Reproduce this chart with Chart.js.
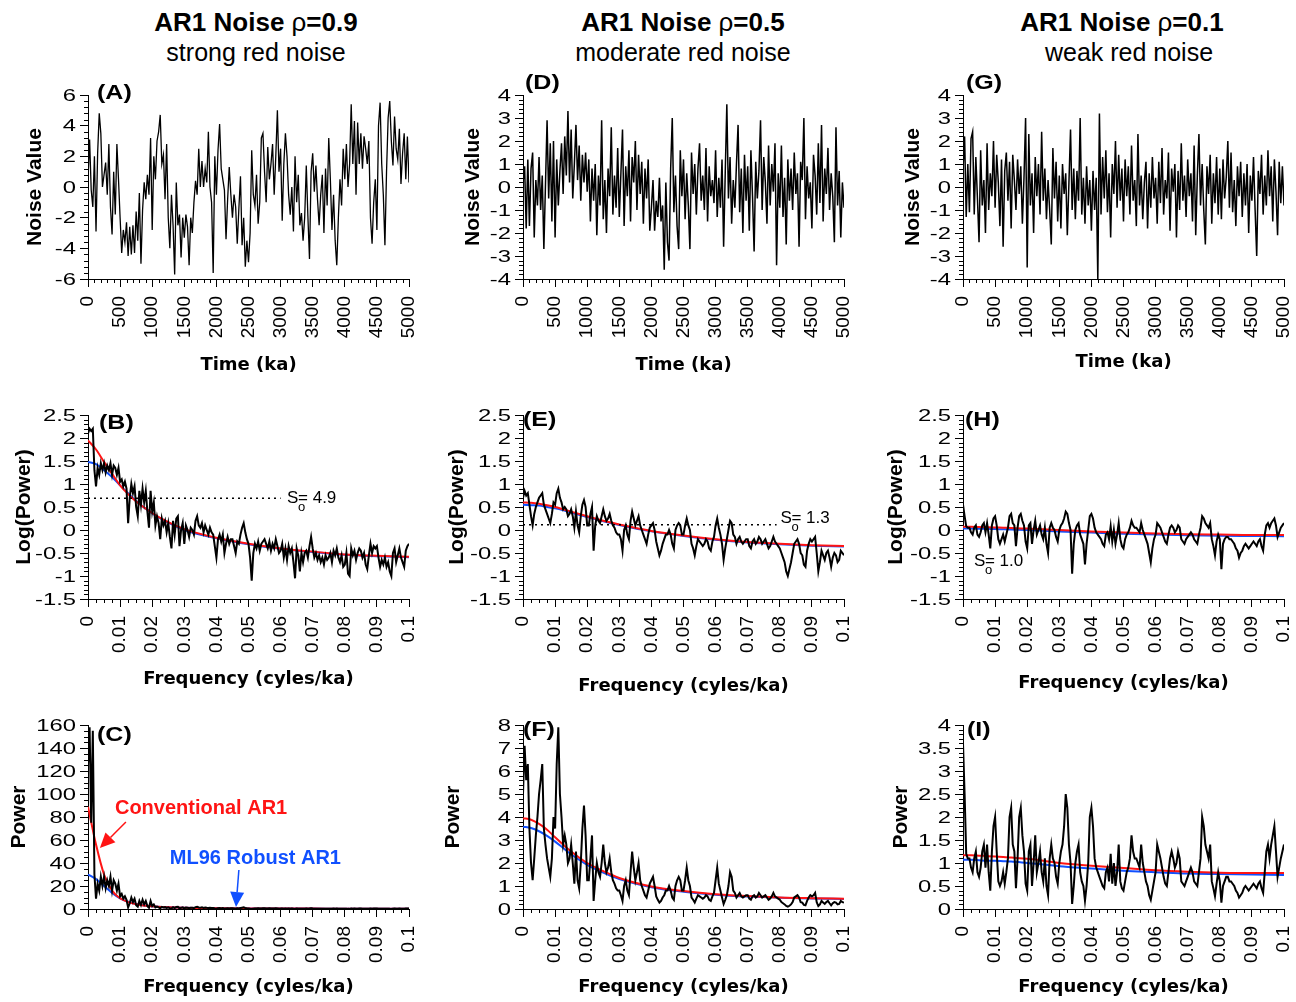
<!DOCTYPE html>
<html>
<head>
<meta charset="utf-8">
<script src="https://cdn.jsdelivr.net/npm/chart.js@4.4.1/dist/chart.umd.min.js"></script>
<style>
  body { margin: 0; background: #fff; width: 1296px; height: 1002px; position: relative; overflow: hidden; }
  canvas { position: absolute; }
  .ttl { position: absolute; top: 7px; width: 400px; text-align: center; color: #000; font-family: "Liberation Sans", Arial, sans-serif; }
  .ttl .t1 { font-size: 26px; font-weight: bold; line-height: 30px; }
  .ttl .t1 span { font-weight: normal; }
  .ttl .t2 { font-size: 25px; line-height: 30px; }
</style>
</head>
<body>
<div class="ttl" style="left:56px"><div class="t1">AR1 Noise <span>ρ</span>=0.9</div><div class="t2">strong red noise</div></div>
<div class="ttl" style="left:483px"><div class="t1">AR1 Noise <span>ρ</span>=0.5</div><div class="t2">moderate red noise</div></div>
<div class="ttl" style="left:922px"><div class="t1">AR1 Noise <span>ρ</span>=0.1</div><div class="t2" style="position:relative;left:7px">weak red noise</div></div>

<script>
// sampling of the read-off series
const TIME_STEP = 25;       // ka between samples of the noise series
const FREQ_STEP = 0.0005;   // cycles/ka between samples of the spectra

// (A) rho = 0.9
const noiseA = [
  0.5, 3.1, -0.2, -1.3, 2.0, -2.9, 2.2, 4.8, 3.5, 0.0, 0.8, 1.6, -0.5, 2.8, -1.3, -3.1, 1.0, -1.8, 2.8, 0.5,
  -2.0, -4.3, -2.8, -3.6, -2.3, -4.5, -2.6, -4.4, -2.5, -4.3, -1.6, -3.5, -0.4, -5.0, -1.5, 0.3, -0.8, 0.8, -0.5, 3.2,
  -2.8, 2.0, 0.5, 3.0, 3.6, 4.7, 1.5, 2.1, -0.8, 2.8, -2.0, -4.0, -0.5, -2.5, -5.7, 0.3, -2.5, -1.8, -4.6, -2.0,
  -3.3, -1.8, -2.6, -5.1, -2.0, -3.0, -1.0, 0.4, -0.5, 2.5, 0.0, 1.7, 0.0, 1.2, 0.3, 3.6, 0.0, -1.0, -5.6, 2.0,
  -0.5, 2.4, 4.1, 1.2, 0.5, -0.2, -3.4, -0.8, 1.3, -0.5, -2.0, -0.5, -1.3, -3.7, -1.4, 0.7, -3.8, -2.0, -5.2, -3.5,
  -4.9, -3.0, 2.4, -0.5, -1.2, 0.8, -2.4, -1.0, 3.2, 3.5, 1.0, -1.0, 2.6, 0.5, 1.5, 2.8, -0.5, 2.0, 5.0, 1.0,
  2.5, -2.2, 1.5, 3.5, 2.0, -0.5, -1.8, 0.0, -2.9, 2.0, -1.0, 0.8, -2.5, -1.7, -3.5, -2.0, 1.4, -1.9, -4.7, 1.0,
  2.2, -0.3, 1.4, -0.8, -2.5, -0.5, 0.8, -3.0, 1.2, -1.2, 3.2, 0.5, -2.8, -0.5, -3.5, -5.1, -2.0, 0.5, -1.2, 2.5,
  0.5, 2.8, 0.0, 1.5, 5.4, 1.5, 4.3, -0.5, 4.2, 1.5, 3.5, 1.2, 3.3, 2.5, 1.5, 3.0, -2.0, -3.7, -1.0, 0.5,
  -2.8, 4.0, 5.5, 1.5, -0.5, -3.8, 1.0, 4.5, 5.6, 3.0, 1.4, 4.6, 2.5, 1.8, 3.8, 0.2, 2.2, 3.5, 0.5, 3.3, 0.3
];
// (D) rho = 0.5
const noiseD = [
  0.2, 0.9, -1.8, 1.2, -1.7, 0.8, 1.5, -2.2, 0.3, -0.8, 1.3, -1.0, 0.5, -2.7, 0.1, 2.9, -0.5, 1.9, -1.5, 2.0,
  -2.2, 1.2, -0.8, 0.7, 1.9, -0.3, 2.2, 0.5, 3.3, 0.2, 2.5, -0.5, 1.0, 2.7, 0.3, 1.8, -0.6, 1.4, 0.2, 1.5,
  -0.2, 1.2, -1.5, 0.8, -0.6, 1.0, -2.1, 0.5, -0.8, 2.9, -1.4, 0.3, -2.0, 0.8, -0.4, 2.6, -1.2, 0.5, -0.9, 1.7,
  -1.3, 0.6, 2.5, -1.7, 0.9, -0.4, 1.6, -1.5, 1.3, 0.2, 2.0, -1.0, 1.4, -0.3, 1.1, -1.6, 0.8, -0.5, 1.2, -1.9,
  -0.9, 0.3, -1.9, -0.6, -1.3, 0.4, -1.5, -0.8, -3.6, 0.2, -2.4, -3.2, 0.8, 3.0, -1.1, 0.5, -1.7, -2.7, 1.6, -0.4,
  1.2, -1.4, 0.6, -0.8, -2.7, 1.5, -0.3, 1.0, -1.2, 0.8, 1.9, -0.6, 0.5, -1.0, 1.7, -1.5, 0.9, -0.4, 0.3, -0.7,
  1.6, -1.3, 0.4, -0.9, 1.2, -2.6, 0.6, 3.6, -0.5, 1.3, -1.6, 0.3, -0.9, 1.0, 2.7, -1.1, 0.8, -2.0, 1.4, -0.6,
  0.9, -1.9, 1.6, -0.4, -2.8, 1.1, -0.5, 0.7, 2.9, -1.0, 1.3, 0.2, -1.6, 1.8, -0.8, 1.0, -0.2, 1.9, -3.4, 0.6,
  -0.9, 1.8, -1.3, 0.4, -2.5, 1.2, -0.6, 0.8, -1.0, 1.5, -0.3, 0.6, -2.6, 1.1, 0.3, 3.0, -1.4, 0.9, -0.5, 0.2,
  -1.8, 1.4, 0.5, -1.2, 1.9, -0.7, 2.7, -1.5, 0.8, -0.3, 1.7, -1.0, 0.6, -0.4, -2.4, 2.6, -0.8, 0.7, -2.2, 0.2, -0.9
];
// (G) rho = 0.1
const noiseG = [
  0.8, 2.2, -1.3, 1.0, -1.1, 2.1, 2.4, -1.2, 1.3, -0.5, -2.4, 1.6, -0.8, 0.3, -2.0, 1.9, -1.0, 0.6, -0.4, 2.0,
  -0.9, 1.4, 0.2, -1.7, 1.2, -2.6, 0.7, 1.5, -0.6, 1.1, -1.8, 1.4, 0.3, -1.0, 1.2, -0.3, 0.9, -1.6, 0.4, 3.0,
  -3.5, 2.3, -0.8, 0.6, -2.0, 1.3, -0.4, 1.0, -1.2, 2.4, -0.6, 0.8, -1.4, 0.3, -1.0, -2.5, 1.7, -0.5, 1.1, -1.5,
  0.5, -1.8, 1.0, -0.3, 0.6, -2.1, 0.2, 2.5, -1.0, 0.8, -1.4, 0.7, -0.6, 3.0, -1.2, 0.4, -1.6, 0.9, -0.8, 0.3,
  -1.9, 0.7, -1.0, 0.4, -4.0, 3.2, -1.2, 1.3, -0.5, 1.6, -1.1, 0.6, -2.2, 1.0, -0.3, 2.0, -0.9, 1.4, -0.6, 0.8,
  -1.5, 1.2, -0.4, 0.9, -1.2, 1.8, -0.6, 0.3, -1.7, 2.3, -0.8, 0.5, -1.4, 0.2, 1.1, -1.8, 0.6, -0.9, 1.3, -0.5,
  0.4, -1.6, 1.1, -0.7, 1.7, -1.2, 0.3, -0.5, 1.5, -1.9, 0.8, -0.2, 1.0, -2.2, 0.7, -1.0, 1.9, -0.6, 0.5, -1.3,
  1.2, -0.4, 0.6, -1.5, 1.8, -2.1, 0.5, 2.3, -0.8, 1.0, -1.0, -2.5, 0.9, -0.3, 1.4, -1.6, 0.6, -0.7, 1.3, -1.2,
  0.8, -1.4, 1.2, -0.5, 0.4, 2.0, -0.9, 1.5, -1.1, 0.3, -1.7, 0.9, -0.4, 1.1, -1.3, 0.6, -0.8, 1.0, -2.0, 0.5,
  -0.6, 1.3, -1.0, -3.0, 0.7, -0.3, 1.4, -1.2, 0.5, -0.8, 1.6, -0.4, 0.9, -1.5, 1.2, -0.2, -2.1, 1.1, -0.7, 0.9, -0.8
];

// (B) log10 power, rho = 0.9
const logPowerB = [
  2.1, 2.2, 2.15, 2.2, 1.3, 0.95, 1.35, 1.2, 1.45, 1.3, 1.45, 1.25, 1.4, 1.3, 1.45, 1.2, 1.4, 1.35, 1.2, 1.35,
  1.05, 1.1, 0.95, 1.05, 0.9, 0.15, 0.7, 1.0, 0.8, 0.95, 0.5, 0.3, 0.85, 0.55, 0.9, 0.6, 0.85, 0.4, 0.05, 0.85,
  0.4, 0.6, 0.1, 0.3, 0.15, -0.2, 0.25, 0.1, 0.2, -0.05, 0.15, -0.15, -0.4, 0.2, -0.1, 0.25, 0.3, -0.35, 0.0, 0.15,
  -0.3, 0.1, 0.0, -0.15, 0.05, 0.0, -0.1, 0.2, 0.3, 0.1, 0.05, 0.15, -0.05, 0.1, 0.0, -0.1, 0.05, -0.05, -0.1, -0.35,
  -0.6, -0.2, -0.1, -0.25, -0.1, -0.5, -0.3, -0.15, -0.3, -0.2, -0.2, -0.35, -0.5, -0.25, -0.3, -0.1, 0.05, 0.15, -0.05, -0.2,
  -0.3, -0.6, -1.1, -0.5, -0.3, -0.4, -0.25, -0.45, -0.3, -0.25, -0.2, -0.3, -0.4, -0.25, -0.45, -0.3, -0.4, -0.2, -0.35, -0.5,
  -0.45, -0.3, -0.6, -0.4, -0.65, -0.35, -0.5, -0.4, -0.7, -1.05, -0.4, -0.55, -0.9, -0.5, -0.7, -0.5, -0.45, -0.6, -0.35, -0.15,
  -0.4, -0.6, -0.5, -0.65, -0.55, -0.7, -0.6, -0.75, -0.55, -0.65, -0.6, -0.5, -0.7, -0.45, -0.55, -0.4, -0.6, -0.7, -0.55, -0.8,
  -0.75, -0.5, -0.95, -1.0, -0.4, -0.55, -0.45, -0.65, -0.5, -0.4, -0.45, -0.6, -0.5, -0.75, -0.85, -0.55, -0.3, -0.5, -0.35, -0.4,
  -0.35, -0.6, -0.8, -0.65, -0.75, -0.6, -0.8, -0.7, -0.9, -1.0, -0.5, -0.4, -0.7, -0.55, -0.4, -0.6, -0.7, -0.8, -0.45, -0.35, -0.3
];
// (C) power, rho = 0.9
const powerC = [
  126, 158, 75, 155, 30, 9, 22, 16, 28, 20, 28, 18, 25, 20, 28, 16, 25, 22, 16, 22,
  11, 13, 9, 11, 8, 1.4, 5, 10, 6, 9, 3.2, 2, 7, 3.5, 8, 4, 7, 2.5, 1.1, 7,
  2.5, 4, 1.3, 2, 1.4, 0.6, 1.8, 1.3, 1.6, 0.9, 1.4, 0.7, 0.4, 1.6, 0.8, 1.8, 2, 0.45, 1, 1.4,
  0.5, 1.3, 1, 0.7, 1.1, 1, 0.8, 1.6, 2, 1.3, 1.1, 1.4, 0.9, 1.3, 1, 0.8, 1.1, 0.9, 0.8, 0.45,
  0.25, 0.6, 0.8, 0.55, 0.8, 0.3, 0.5, 0.7, 0.5, 0.6, 0.6, 0.45, 0.3, 0.55, 0.5, 0.8, 1.1, 1.4, 0.9, 0.6,
  0.5, 0.25, 0.08, 0.3, 0.5, 0.4, 0.55, 0.35, 0.5, 0.55, 0.6, 0.5, 0.4, 0.55, 0.35, 0.5, 0.4, 0.6, 0.45, 0.3,
  0.35, 0.5, 0.25, 0.4, 0.22, 0.45, 0.3, 0.4, 0.2, 0.09, 0.4, 0.28, 0.13, 0.3, 0.2, 0.3, 0.35, 0.25, 0.45, 0.7,
  0.4, 0.25, 0.3, 0.22, 0.28, 0.2, 0.25, 0.18, 0.28, 0.22, 0.25, 0.3, 0.2, 0.35, 0.28, 0.4, 0.25, 0.2, 0.28, 0.16,
  0.18, 0.3, 0.11, 0.1, 0.4, 0.28, 0.35, 0.22, 0.3, 0.4, 0.35, 0.25, 0.3, 0.18, 0.14, 0.28, 0.5, 0.3, 0.45, 0.4,
  0.45, 0.25, 0.16, 0.22, 0.18, 0.25, 0.16, 0.2, 0.13, 0.1, 0.3, 0.4, 0.2, 0.28, 0.4, 0.25, 0.2, 0.16, 0.35, 0.45, 0.5
];
// (E) log10 power, rho = 0.5
const logPowerE = [
  0.7, 0.85, 0.75, 0.8, 0.55, 0.3, 0.1, 0.35, 0.5, 0.6, 0.7, 0.75, 0.8, 0.55, 0.45, 0.35, 0.25, 0.15, 0.35, 0.6,
  0.55, 0.8, 0.9, 0.7, 0.6, 0.45, 0.5, 0.45, 0.3, 0.35, 0.45, 0.3, 0.05, 0.4, 0.1, -0.05, 0.3, 0.55, 0.65, 0.5,
  0.1, 0.1, 0.35, 0.5, -0.45, 0.1, 0.3, 0.2, 0.15, 0.3, 0.45, 0.3, 0.2, 0.25, 0.35, 0.2, 0.1, 0.05, -0.05, -0.1,
  -0.1, -0.2, -0.45, 0.0, 0.1, -0.1, -0.2, 0.2, 0.4, 0.25, 0.1, 0.2, 0.3, 0.1, 0.0, -0.1, -0.2, -0.3, -0.1, 0.05,
  0.1, 0.15, 0.0, -0.25, -0.4, -0.55, -0.45, -0.3, -0.2, -0.1, -0.1, 0.0, -0.1, -0.3, -0.4, 0.0, 0.1, 0.15, 0.1, -0.1,
  -0.1, 0.1, 0.25, 0.1, 0.0, -0.3, -0.4, -0.55, -0.35, -0.2, -0.25, -0.3, -0.35, -0.3, -0.2, -0.25, -0.4, -0.45, -0.25, -0.15,
  0.1, 0.25, 0.05, -0.1, -0.3, -0.65, -0.4, -0.2, 0.0, 0.2, 0.15, -0.1, -0.15, -0.3, -0.2, -0.15, -0.25, -0.3, -0.25, -0.2,
  -0.2, -0.35, -0.4, -0.25, -0.2, -0.3, -0.25, -0.15, -0.2, -0.3, -0.25, -0.2, -0.3, -0.4, -0.35, -0.25, -0.15, -0.25, -0.3, -0.35,
  -0.4, -0.5, -0.6, -0.7, -0.9, -1.0, -0.85, -0.7, -0.5, -0.3, -0.25, -0.2, -0.3, -0.5, -0.55, -0.75, -0.8, -0.45, -0.3, -0.2,
  -0.25, -0.2, -0.15, -0.5, -0.9, -0.7, -0.45, -0.55, -0.65, -0.5, -0.45, -0.6, -0.8, -0.6, -0.5, -0.55, -0.7, -0.65, -0.45, -0.5, -0.55
];
// (F) power, rho = 0.5
const powerF = [
  5.0, 7.1, 5.6, 6.3, 3.5, 2.0, 1.25, 2.2, 3.2, 4.0, 5.0, 5.6, 6.3, 3.5, 2.8, 2.2, 1.8, 1.4, 2.2, 4.0,
  3.5, 6.3, 7.9, 5.0, 4.0, 2.8, 3.2, 2.8, 2.0, 2.2, 2.8, 2.0, 1.1, 2.5, 1.25, 0.9, 2.0, 3.5, 4.5, 3.2,
  1.25, 1.25, 2.2, 3.2, 0.35, 1.25, 2.0, 1.6, 1.4, 2.0, 2.8, 2.0, 1.6, 1.8, 2.2, 1.6, 1.25, 1.1, 0.9, 0.8,
  0.8, 0.6, 0.35, 1.0, 1.25, 0.8, 0.6, 1.6, 2.5, 1.8, 1.25, 1.6, 2.0, 1.25, 1.0, 0.8, 0.6, 0.5, 0.8, 1.1,
  1.25, 1.4, 1.0, 0.55, 0.4, 0.28, 0.35, 0.5, 0.6, 0.8, 0.8, 1.0, 0.8, 0.5, 0.4, 1.0, 1.25, 1.4, 1.25, 0.8,
  0.8, 1.25, 1.8, 1.25, 1.0, 0.5, 0.4, 0.28, 0.45, 0.6, 0.55, 0.5, 0.45, 0.5, 0.6, 0.55, 0.4, 0.35, 0.55, 0.7,
  1.25, 1.8, 1.1, 0.8, 0.5, 0.22, 0.4, 0.6, 1.0, 1.6, 1.4, 0.8, 0.7, 0.5, 0.6, 0.7, 0.55, 0.5, 0.55, 0.6,
  0.6, 0.45, 0.4, 0.55, 0.6, 0.5, 0.55, 0.7, 0.6, 0.5, 0.55, 0.6, 0.5, 0.4, 0.45, 0.55, 0.7, 0.55, 0.5, 0.45,
  0.4, 0.3, 0.25, 0.2, 0.13, 0.1, 0.14, 0.2, 0.3, 0.5, 0.55, 0.6, 0.5, 0.3, 0.28, 0.18, 0.16, 0.35, 0.5, 0.6,
  0.55, 0.6, 0.7, 0.3, 0.13, 0.2, 0.35, 0.28, 0.22, 0.3, 0.35, 0.25, 0.16, 0.25, 0.3, 0.28, 0.2, 0.22, 0.35, 0.3, 0.28
];
// (H) log10 power, rho = 0.1
const logPowerH = [
  0.55, 0.3, 0.08, 0.05, 0.05, -0.05, -0.1, 0.05, 0.1, -0.1, -0.15, -0.05, 0.1, 0.15, -0.05, 0.15, -0.1, -0.4, 0.1, 0.25,
  0.3, 0.1, -0.2, -0.3, -0.2, -0.1, -0.25, -0.1, 0.05, 0.3, 0.35, 0.15, 0.1, -0.35, 0.05, 0.3, 0.35, 0.2, 0.1, -0.25,
  -0.4, 0.1, 0.15, -0.3, 0.0, 0.2, -0.1, 0.0, 0.1, -0.1, -0.2, 0.05, -0.3, -0.5, 0.05, 0.15, 0.05, 0.0, -0.15, -0.25,
  0.0, 0.1, 0.15, 0.25, 0.4, 0.35, 0.15, 0.0, -0.95, -0.3, 0.0, 0.1, 0.15, -0.1, -0.2, -0.3, -0.75, -0.3, 0.0, 0.3,
  0.35, 0.25, 0.05, -0.05, -0.1, -0.15, -0.2, -0.3, -0.35, -0.1, -0.05, -0.2, 0.08, -0.25, 0.0, -0.3, -0.1, 0.15, -0.2, -0.35,
  -0.4, -0.2, -0.1, -0.05, 0.05, 0.2, 0.1, 0.05, 0.05, 0.0, -0.05, 0.15, 0.0, -0.1, -0.2, -0.3, -0.5, -0.7, -0.4, -0.2,
  -0.1, 0.15, 0.1, 0.05, -0.05, -0.15, -0.25, -0.3, -0.1, 0.05, 0.1, 0.05, -0.05, 0.0, 0.1, 0.05, -0.2, -0.25, -0.3, -0.2,
  -0.15, -0.1, -0.05, -0.1, -0.2, -0.25, -0.3, -0.1, 0.05, 0.3, 0.25, 0.15, 0.1, 0.05, 0.15, -0.2, -0.35, -0.55, -0.25, -0.1,
  -0.2, -0.85, -0.3, -0.2, -0.15, -0.15, -0.2, -0.2, -0.25, -0.3, -0.4, -0.45, -0.6, -0.5, -0.45, -0.35, -0.3, -0.35, -0.4, -0.35,
  -0.3, -0.25, -0.3, -0.35, -0.25, -0.2, -0.35, -0.45, -0.1, 0.1, 0.15, 0.05, 0.15, 0.2, 0.25, 0.1, -0.15, -0.05, 0.05, 0.1, 0.15
];
// (I) power, rho = 0.1
const powerI = [
  3.6, 2.5, 1.2, 1.1, 1.1, 0.9, 0.8, 1.1, 1.25, 0.8, 0.7, 0.9, 1.25, 1.4, 0.9, 1.4, 0.8, 0.4, 1.25, 1.8,
  2.0, 1.25, 0.6, 0.5, 0.6, 0.8, 0.55, 0.8, 1.1, 2.0, 2.2, 1.4, 1.25, 0.45, 1.1, 2.0, 2.2, 1.6, 1.25, 0.55,
  0.4, 1.25, 1.4, 0.5, 1.0, 1.6, 0.8, 1.0, 1.25, 0.8, 0.6, 1.1, 0.5, 0.3, 1.1, 1.4, 1.1, 1.0, 0.7, 0.55,
  1.0, 1.25, 1.4, 1.8, 2.5, 2.2, 1.4, 1.0, 0.11, 0.5, 1.0, 1.25, 1.4, 0.8, 0.6, 0.5, 0.18, 0.5, 1.0, 2.0,
  2.2, 1.8, 1.1, 0.9, 0.8, 0.7, 0.6, 0.5, 0.45, 0.8, 0.9, 0.6, 1.2, 0.55, 1.0, 0.5, 0.8, 1.4, 0.6, 0.45,
  0.4, 0.6, 0.8, 0.9, 1.1, 1.6, 1.25, 1.1, 1.1, 1.0, 0.9, 1.4, 1.0, 0.8, 0.6, 0.5, 0.3, 0.2, 0.4, 0.6,
  0.8, 1.4, 1.25, 1.1, 0.9, 0.7, 0.55, 0.5, 0.8, 1.1, 1.25, 1.1, 0.9, 1.0, 1.25, 1.1, 0.6, 0.55, 0.5, 0.6,
  0.7, 0.8, 0.9, 0.8, 0.6, 0.55, 0.5, 0.8, 1.1, 2.0, 1.8, 1.4, 1.25, 1.1, 1.4, 0.6, 0.45, 0.28, 0.55, 0.8,
  0.6, 0.14, 0.5, 0.6, 0.7, 0.7, 0.6, 0.6, 0.55, 0.5, 0.4, 0.35, 0.25, 0.3, 0.35, 0.45, 0.5, 0.45, 0.4, 0.45,
  0.5, 0.55, 0.5, 0.45, 0.55, 0.6, 0.45, 0.35, 0.8, 1.25, 1.4, 1.1, 1.4, 1.6, 1.8, 1.25, 0.7, 0.9, 1.1, 1.25, 1.4
];

// AR1 fits (red = conventional, blue = ML96 robust), read at these frequencies
const fitFreq   = [0, 0.0025, 0.005, 0.0075, 0.01, 0.0125, 0.015, 0.02, 0.025, 0.03, 0.04, 0.05, 0.06, 0.07, 0.08, 0.09, 0.1];
const convB     = [1.95, 1.75, 1.48, 1.22, 0.97, 0.78, 0.62, 0.37, 0.17, 0.02, -0.17, -0.3, -0.4, -0.47, -0.53, -0.56, -0.58];
const robustB   = [1.48, 1.43, 1.3, 1.15, 0.97, 0.8, 0.63, 0.36, 0.16, 0.0, -0.18, -0.31, -0.41, -0.48, -0.54, -0.57, -0.59];
const convC     = [89, 56, 30, 16, 9.3, 6, 4.2, 2.3, 1.5, 1.05, 0.68, 0.5, 0.4, 0.34, 0.3, 0.28, 0.26];
const robustC   = [30, 26, 20, 14, 9.3, 6.3, 4.3, 2.3, 1.45, 1.0, 0.66, 0.49, 0.39, 0.33, 0.29, 0.27, 0.26];
const convE     = [0.6, 0.59, 0.57, 0.54, 0.5, 0.45, 0.4, 0.3, 0.2, 0.12, -0.02, -0.12, -0.2, -0.26, -0.3, -0.33, -0.35];
const robustE   = [0.55, 0.54, 0.53, 0.5, 0.47, 0.43, 0.38, 0.28, 0.19, 0.11, -0.03, -0.13, -0.21, -0.27, -0.31, -0.34, -0.36];
const convF     = [3.95, 3.88, 3.7, 3.45, 3.12, 2.8, 2.5, 2.0, 1.65, 1.35, 0.98, 0.78, 0.64, 0.56, 0.5, 0.47, 0.45];
const robustF   = [3.58, 3.52, 3.38, 3.18, 2.93, 2.65, 2.38, 1.92, 1.58, 1.3, 0.95, 0.75, 0.62, 0.54, 0.49, 0.46, 0.44];
const convH     = [0.07, 0.07, 0.065, 0.06, 0.055, 0.05, 0.045, 0.03, 0.015, 0.0, -0.03, -0.055, -0.075, -0.09, -0.1, -0.11, -0.11];
const robustH   = [0.03, 0.03, 0.028, 0.025, 0.02, 0.017, 0.013, 0.0, -0.015, -0.03, -0.055, -0.08, -0.1, -0.115, -0.125, -0.13, -0.135];
const convI     = [1.17, 1.17, 1.16, 1.15, 1.14, 1.13, 1.12, 1.09, 1.05, 1.0, 0.94, 0.89, 0.84, 0.81, 0.79, 0.78, 0.78];
const robustI   = [1.07, 1.07, 1.06, 1.05, 1.05, 1.04, 1.03, 1.0, 0.97, 0.93, 0.88, 0.83, 0.8, 0.77, 0.76, 0.75, 0.74];

// white-noise level S0 (dotted line, log10 of S0) and where it stops
const s0Labels = ['4.9', '1.3', '1.0'];
const s0LogLevel = [0.69, 0.114];
const s0LineEnd = [0.06, 0.079];

const FONT = '"Liberation Sans", Arial, sans-serif';
const RED = '#ff1414';
const BLUE = '#1050ff';
const fmt = v => String(Math.round(v * 10000) / 10000);

const series = (vals, step) => vals.map((v, i) => ({x: i * step, y: v}));
const pairs = (xs, ys) => xs.map((x, i) => ({x: x, y: ys[i]}));
const flat = (x0, x1, y) => [{x: x0, y: y}, {x: x1, y: y}];

const black = (vals, step, w) => ({data: series(vals, step), color: '#000', width: w});
const fit = (vals, color) => ({data: pairs(fitFreq, vals), color: color, width: 2, smooth: true});
const dotted = (i) => ({data: flat(0, s0LineEnd[i], s0LogLevel[i]), color: '#000', width: 1.5, dash: [2, 4]});

// layout of the 3 x 3 grid
const cols = [
  {left: 0, right: 425, plotLeft: 88, plotRight: 409},
  {left: 440, right: 860, plotLeft: 523, plotRight: 844},
  {left: 876, right: 1296, plotLeft: 963, plotRight: 1284}
];
const rows = [
  {top: 60, plotTop: 95, plotBottom: 279},
  {top: 395, plotTop: 415, plotBottom: 599},
  {top: 705, plotTop: 725, plotBottom: 909}
];

const timeAxis = {min: 0, max: 5000, step: 500, minor: 100, title: 'Time (ka)'};
const freqAxis = {min: 0, max: 0.1, step: 0.01, minor: 0.0025, title: 'Frequency (cyles/ka)'};
const noiseAxis6 = {min: -6, max: 6, step: 2, minor: 0.4, title: 'Noise Value'};
const noiseAxis4 = {min: -4, max: 4, step: 1, minor: 0.2, title: 'Noise Value'};
const logAxis = {min: -1.5, max: 2.5, step: 0.5, minor: 0.1, title: 'Log(Power)'};

const panels = [
  {letter: '(A)', col: 0, row: 0, x: timeAxis, y: noiseAxis6, yTitleX: 35, xTitleY: 365, letterAt: [9, -2],
   lines: [black(noiseA, TIME_STEP, 1.3)]},
  {letter: '(B)', col: 0, row: 1, x: freqAxis, y: logAxis, yTitleX: 24, xTitleY: 679, letterAt: [11, 8],
   lines: [dotted(0), black(logPowerB, FREQ_STEP, 2), fit(convB, RED), fit(robustB, BLUE)],
   s0: {text: s0Labels[0], at: [0.062, 0.69]}},
  {letter: '(C)', col: 0, row: 2, x: freqAxis, y: {min: 0, max: 160, step: 20, minor: 5, title: 'Power'}, yTitleX: 19, xTitleY: 987, letterAt: [9, 10],
   lines: [black(powerC, FREQ_STEP, 2), fit(convC, RED), fit(robustC, BLUE)],
   notes: [
     {text: 'Conventional AR1', color: RED, at: [0.0084, 87.8], from: [0.0118, 75.7], to: [0.0037, 53]},
     {text: 'ML96 Robust AR1', color: BLUE, at: [0.0255, 44.3], from: [0.047, 33.9], to: [0.0461, 1.7]}
   ]},
  {letter: '(D)', col: 1, row: 0, x: timeAxis, y: noiseAxis4, yTitleX: 473, xTitleY: 365, letterAt: [2, -12],
   lines: [black(noiseD, TIME_STEP, 1.5)]},
  {letter: '(E)', col: 1, row: 1, x: freqAxis, y: logAxis, yTitleX: 457, xTitleY: 686, letterAt: [0, 5],
   lines: [dotted(1), black(logPowerE, FREQ_STEP, 2), fit(convE, RED), fit(robustE, BLUE)],
   s0: {text: s0Labels[1], at: [0.0802, 0.26]}},
  {letter: '(F)', col: 1, row: 2, x: freqAxis, y: {min: 0, max: 8, step: 1, minor: 0.2, title: 'Power'}, yTitleX: 453, xTitleY: 987, letterAt: [0, 5],
   lines: [black(powerF, FREQ_STEP, 2), fit(convF, RED), fit(robustF, BLUE)]},
  {letter: '(G)', col: 2, row: 0, x: timeAxis, y: noiseAxis4, yTitleX: 913, xTitleY: 362, letterAt: [3, -12],
   lines: [black(noiseG, TIME_STEP, 1.5)]},
  {letter: '(H)', col: 2, row: 1, x: freqAxis, y: logAxis, yTitleX: 896, xTitleY: 683, letterAt: [2, 5],
   lines: [black(logPowerH, FREQ_STEP, 2), fit(convH, RED), fit(robustH, BLUE)],
   s0: {text: s0Labels[2], at: [0.0034, -0.674]}},
  {letter: '(I)', col: 2, row: 2, x: freqAxis, y: {min: 0, max: 4, step: 0.5, minor: 0.1, title: 'Power'}, yTitleX: 901, xTitleY: 987, letterAt: [4, 5],
   lines: [black(powerI, FREQ_STEP, 2), fit(convI, RED), fit(robustI, BLUE)]}
];

function eachMinor(o, fn) {
  const n = Math.round((o.max - o.min) / o.minor);
  const every = Math.round(o.step / o.minor);
  for (let k = 0; k <= n; k++) if (k % every) fn(o.min + k * o.minor);
}

function arrow(ctx, x1, y1, x2, y2, color) {
  const ang = Math.atan2(y2 - y1, x2 - x1), len = 15, half = 7;
  const bx = x2 - len * Math.cos(ang), by = y2 - len * Math.sin(ang);
  ctx.strokeStyle = color; ctx.fillStyle = color; ctx.lineWidth = 1.5;
  ctx.beginPath(); ctx.moveTo(x1, y1); ctx.lineTo(bx, by); ctx.stroke();
  ctx.beginPath();
  ctx.moveTo(x2, y2);
  ctx.lineTo(bx + half * Math.sin(ang), by - half * Math.cos(ang));
  ctx.lineTo(bx - half * Math.sin(ang), by + half * Math.cos(ang));
  ctx.closePath(); ctx.fill();
}

function decor(p) {
  return {
    id: 'decor',
    afterDraw(chart) {
      const {ctx, chartArea: a, scales: {x, y}} = chart;
      ctx.save();
      // minor ticks
      ctx.strokeStyle = '#000'; ctx.lineWidth = 1;
      ctx.beginPath();
      eachMinor(p.x, v => {
        const px = Math.round(x.getPixelForValue(v)) + 0.5;
        ctx.moveTo(px, a.bottom); ctx.lineTo(px, a.bottom + 4);
      });
      eachMinor(p.y, v => {
        const py = Math.round(y.getPixelForValue(v)) + 0.5;
        ctx.moveTo(a.left, py); ctx.lineTo(a.left - 4, py);
      });
      ctx.stroke();
      // y tick labels (wide face as in the original)
      ctx.fillStyle = '#000';
      ctx.font = '17px ' + FONT;
      ctx.textAlign = 'right'; ctx.textBaseline = 'middle';
      y.ticks.forEach(t => {
        ctx.save();
        ctx.translate(a.left - 12, y.getPixelForValue(t.value) + 1);
        ctx.scale(1.4, 1);
        ctx.fillText(fmt(t.value), 0, 0);
        ctx.restore();
      });
      // panel letter
      ctx.font = 'bold 20px ' + FONT;
      ctx.textAlign = 'left';
      ctx.save();
      ctx.translate(a.left + p.letterAt[0], a.top + p.letterAt[1]);
      ctx.scale(1.25, 1);
      ctx.fillText(p.letter, 0, 0);
      ctx.restore();
      // S0 label
      if (p.s0) {
        const sx = x.getPixelForValue(p.s0.at[0]), sy = y.getPixelForValue(p.s0.at[1]);
        ctx.font = '17px ' + FONT;
        ctx.fillText('S', sx, sy);
        ctx.fillText('= ' + p.s0.text, sx + 11, sy);
        ctx.font = '13px ' + FONT;
        ctx.fillText('o', sx + 11, sy + 9);
      }
      // annotations
      (p.notes || []).forEach(n => {
        ctx.font = 'bold 20px ' + FONT;
        ctx.fillStyle = n.color;
        ctx.fillText(n.text, x.getPixelForValue(n.at[0]), y.getPixelForValue(n.at[1]));
        arrow(ctx, x.getPixelForValue(n.from[0]), y.getPixelForValue(n.from[1]),
                   x.getPixelForValue(n.to[0]), y.getPixelForValue(n.to[1]), n.color);
      });
      ctx.restore();
    }
  };
}

function axisOpts(o, horizontal, size) {
  return {
    type: 'linear', min: o.min, max: o.max,
    afterFit: s => {
      if (horizontal) s.height = size; else s.width = size;
      // the plot box is fixed, do not let label overhang shrink it
      s.paddingLeft = 0; s.paddingRight = 0; s.paddingTop = 0; s.paddingBottom = 0;
    },
    ticks: horizontal
      ? {stepSize: o.step, autoSkip: false, minRotation: 90, maxRotation: 90, padding: 9, color: '#000',
         font: {family: FONT, size: 19}, callback: v => fmt(v)}
      : {stepSize: o.step, display: false},
    grid: {display: true, drawOnChartArea: false, drawTicks: true, tickLength: 8, color: '#000', lineWidth: 1},
    border: {display: true, color: '#000', width: 1},
    title: horizontal
      ? {display: true, text: o.title, color: '#000', padding: 0, font: {family: '"DejaVu Sans", sans-serif', size: 18, weight: 'bold'}}
      : {display: true, text: o.title, color: '#000', padding: 0, font: {family: FONT, size: 21, weight: 'bold'}}
  };
}

function makeChart(p) {
  const c = cols[p.col], r = rows[p.row];
  const w = c.right - c.left;
  const h = Math.round(p.xTitleY + 18 * 1.2 / 2 - r.top);
  const canvas = document.createElement('canvas');
  canvas.width = w; canvas.height = h;
  canvas.style.left = c.left + 'px'; canvas.style.top = r.top + 'px';
  canvas.style.width = w + 'px'; canvas.style.height = h + 'px';
  document.body.appendChild(canvas);

  const padLeft = p.yTitleX - 21 * 1.2 / 2 - c.left;
  const yWidth = c.plotLeft - c.left - padLeft;
  const xHeight = h - (r.plotBottom - r.top);

  new Chart(canvas, {
    type: 'line',
    data: {
      datasets: p.lines.map(l => ({
        data: l.data,
        borderColor: l.color,
        borderWidth: l.width,
        borderDash: l.dash || [],
        pointRadius: 0,
        fill: false,
        tension: l.smooth ? 0.4 : 0,
        cubicInterpolationMode: l.smooth ? 'monotone' : 'default'
      }))
    },
    options: {
      responsive: false,
      animation: false,
      devicePixelRatio: 1,
      layout: {padding: {left: padLeft, right: c.right - c.plotRight, top: r.plotTop - r.top, bottom: 0}},
      plugins: {legend: {display: false}, tooltip: {enabled: false}},
      scales: {
        x: axisOpts(p.x, true, xHeight),
        y: axisOpts(p.y, false, yWidth)
      }
    },
    plugins: [decor(p)]
  });
}

panels.forEach(makeChart);
</script>
</body>
</html>
